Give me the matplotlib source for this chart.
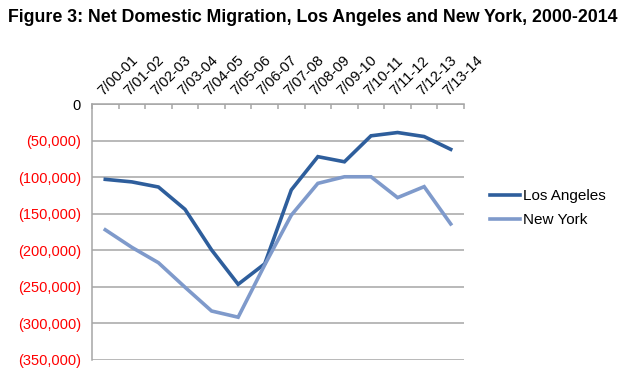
import numpy as np
import matplotlib.pyplot as plt
from matplotlib.ticker import FuncFormatter

plt.rcParams['font.family'] = ['Liberation Sans', 'DejaVu Sans']

periods = ['7/00-01', '7/01-02', '7/02-03', '7/03-04', '7/04-05', '7/05-06', '7/06-07',
           '7/07-08', '7/08-09', '7/09-10', '7/10-11', '7/11-12', '7/12-13', '7/13-14']
los_angeles = [-103000, -106500, -113500, -144000, -199500, -246500, -218500,
               -117500, -72000, -79000, -43500, -39000, -44500, -62000]
new_york = [-172000, -196000, -217000, -250500, -283000, -291500, -220000,
            -152000, -108500, -99500, -99500, -128000, -113000, -164000]

fig = plt.figure(figsize=(6.2, 3.74), dpi=100)
ax = fig.add_axes([92 / 620, 1 - 360 / 374, (464 - 92) / 620, (360 - 104) / 374])

x = np.arange(len(periods))
la_line, = ax.plot(x, los_angeles, color='#2E5E9C', lw=2.6, solid_joinstyle='miter')
ny_line, = ax.plot(x, new_york, color='#7F9ACB', lw=2.6, solid_joinstyle='miter')

ax.set_xlim(-0.5, len(periods) - 0.5)
ax.set_ylim(-350000, 0)
ax.set_yticks(np.arange(-350000, 1, 50000))
ax.yaxis.set_major_formatter(FuncFormatter(lambda v, p: '0' if v == 0 else f'({abs(v):,.0f})'))
ax.grid(axis='y', color='#A6A6A6', lw=1.1)
ax.set_axisbelow(True)

for s in ['right', 'bottom']:
    ax.spines[s].set_visible(False)
for s in ['left', 'top']:
    ax.spines[s].set_color('#A6A6A6')
    ax.spines[s].set_linewidth(1.1)

ax.tick_params(axis='y', length=0, pad=8, labelsize=10.5)
for lbl, v in zip(ax.get_yticklabels(), ax.get_yticks()):
    lbl.set_color('black' if v == 0 else '#FF0000')

ax.xaxis.tick_top()
ax.set_xticks(x)
ax.set_xticklabels(periods, rotation=45, ha='left', va='bottom', rotation_mode='anchor', fontsize=10.5)
ax.tick_params(axis='x', which='major', length=0, pad=4)
ax.set_xticks(np.arange(-0.5, len(periods)), minor=True)
ax.tick_params(axis='x', which='minor', direction='in', length=3.5, color='#A6A6A6', width=1.1)

fig.legend([la_line, ny_line], ['Los Angeles', 'New York'], loc='center left',
           bbox_to_anchor=(476 / 620, 1 - 208 / 374), frameon=False, fontsize=11,
           handlelength=2.0, handletextpad=0.15, labelspacing=0.65)

fig.text(8 / 620, 1 - 18 / 374, 'Figure 3: Net Domestic Migration, Los Angeles and New York, 2000-2014',
         fontsize=12.8, fontweight='bold', va='center', ha='left')

fig.savefig('out.png', dpi=100)
